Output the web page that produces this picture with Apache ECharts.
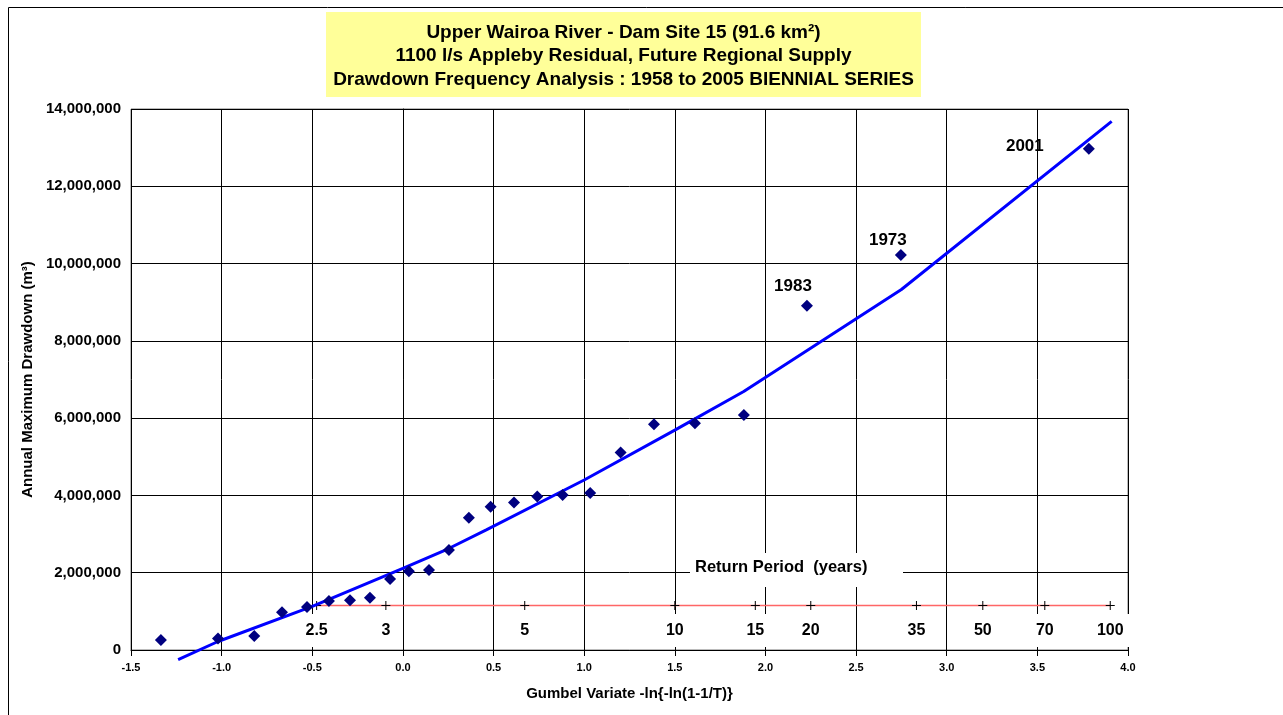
<!DOCTYPE html>
<html><head><meta charset="utf-8">
<script src="https://cdn.jsdelivr.net/npm/echarts@6/dist/echarts.min.js"></script>
<style>html,body{margin:0;padding:0;background:#fff}#c{width:1283px;height:715px}</style>
</head><body><div id="c"></div>
<script>
// ---- data ----
const titleLines = [
  'Upper Wairoa River - Dam Site 15 (91.6 km\u00B2)',
  '1100 l/s Appleby Residual, Future Regional Supply',
  'Drawdown Frequency Analysis : 1958 to 2005 BIENNIAL SERIES'
];
// observed annual maximum drawdowns (plotting positions)
const gumbelX = [-1.335,-1.02,-0.82,-0.667,-0.529,-0.408,-0.292,-0.182,-0.071,0.033,0.144,0.254,0.364,0.484,0.613,0.741,0.881,1.033,1.201,1.385,1.611,1.881,2.229,2.747,3.784];
const drawdown = [260000,300000,360000,980000,1110000,1270000,1290000,1350000,1840000,2040000,2070000,2590000,3420000,3710000,3820000,3970000,4010000,4060000,5110000,5840000,5870000,6080000,8910000,10220000,12970000];
// labelled years
const yearIdx = [22, 23, 24];
const yearText = ['1983', '1973', '2001'];
// fitted frequency curve
const fitX = [-1.24,-1.02,-0.5,0.0,0.25,0.46,1.0,1.5,1.88,2.75,3.91];
const fitY = [-250000,220000,1130000,2110000,2620000,3110000,4400000,5690000,6690000,9330000,13680000];
// return period scale (years) and its gumbel positions
const rpLabels = ['2.5','3','5','10','15','20','35','50','70','100'];
const rpX = [-0.476,-0.094,0.672,1.500,1.944,2.250,2.833,3.199,3.541,3.902];
const rpLevel = 1150000;
// axis ticks
const xTicks = {min:-1.5, max:4.0, step:0.5};
const yTicks = {min:0, max:14000000, step:2000000};

const F = "'Liberation Sans', Arial, Helvetica, sans-serif";
const chart = echarts.init(document.getElementById('c'), null, {renderer:'canvas'});

const yearOffsets = {'1983':[-14,-19], '1973':[-13,-15], '2001':[-64,-2]};

const scatterData = gumbelX.map((x,i)=>{
  const k = yearIdx.indexOf(i);
  const item = {value:[x, drawdown[i]]};
  if (k >= 0) {
    const t = yearText[k];
    item.label = {show:true, formatter:t, position:'inside', offset:yearOffsets[t],
      fontFamily:F, fontWeight:'bold', fontSize:17, color:'#000'};
  }
  return item;
});

const option = {
  animation:false,
  grid:{left:131, top:109, right:155, bottom:65, show:true, borderColor:'#777', borderWidth:1},
  xAxis:{
    type:'value', min:xTicks.min, max:xTicks.max, interval:xTicks.step,
    name:'Gumbel Variate -ln{-ln(1-1/T)}', nameLocation:'middle', nameGap:36,
    nameTextStyle:{fontFamily:F, fontWeight:'bold', fontSize:15, color:'#000'},
    axisLine:{onZero:false, lineStyle:{color:'#000', width:1}},
    axisTick:{show:true, length:6, lineStyle:{color:'#000'}},
    axisLabel:{formatter:v=>v.toFixed(1), fontFamily:F, fontWeight:'bold', fontSize:11, color:'#000', margin:12},
    splitLine:{show:true, lineStyle:{color:'#000', width:1}}
  },
  yAxis:{
    type:'value', min:yTicks.min, max:yTicks.max, interval:yTicks.step,
    name:'Annual Maximum Drawdown (m\u00B3)', nameLocation:'middle', nameGap:96, nameRotate:90,
    nameTextStyle:{fontFamily:F, fontWeight:'bold', fontSize:15, color:'#000'},
    axisLine:{show:true, lineStyle:{color:'#000', width:1}},
    axisTick:{show:true, length:7, lineStyle:{color:'#000'}},
    axisLabel:{formatter:v=>v.toLocaleString('en-US'), fontFamily:F, fontWeight:'bold', fontSize:15, color:'#000', margin:10},
    splitLine:{show:true, lineStyle:{color:'#000', width:1}}
  },
  series:[
    {
      type:'line', z:1,
      data:rpX.map(x=>[x, rpLevel]),
      symbol:'path://M4,0H5V9H4ZM0,4H9V5H0Z', symbolSize:9,
      itemStyle:{color:'#000'},
      lineStyle:{color:'#ff6666', width:1.5},
      label:{show:true, formatter:p=>rpLabels[p.dataIndex], position:'inside', offset:[0,25],
        fontFamily:F, fontWeight:'bold', fontSize:16, lineHeight:17, color:'#000',
        backgroundColor:'#fff', padding:[8,10,8,10]},
      silent:true
    },
    {
      type:'line', z:3,
      data:fitX.map((x,i)=>[x, fitY[i]]),
      symbol:'none', showSymbol:false, clip:false,
      lineStyle:{color:'#0000ff', width:3},
      silent:true
    },
    {
      type:'scatter', z:4,
      data:scatterData,
      symbol:'diamond', symbolSize:12,
      itemStyle:{color:'#000080', opacity:1},
      silent:true
    }
  ],
  graphic:[
    {type:'rect', silent:true, z:0, shape:{x:8.5, y:7.5, width:1300, height:730}, style:{fill:'none', stroke:'#000', lineWidth:1}},
    {type:'rect', silent:true, z:1, shape:{x:326, y:12, width:595, height:85}, style:{fill:'#ffff99'}},
    {type:'text', silent:true, z:2, style:{text:titleLines[0], x:623.5, y:32.5, textAlign:'center', textVerticalAlign:'middle', font:"bold 19px "+F, fill:'#000'}},
    {type:'text', silent:true, z:2, style:{text:titleLines[1], x:623.5, y:56, textAlign:'center', textVerticalAlign:'middle', font:"bold 19px "+F, fill:'#000'}},
    {type:'text', silent:true, z:2, style:{text:titleLines[2], x:623.5, y:79.5, textAlign:'center', textVerticalAlign:'middle', font:"bold 19px "+F, fill:'#000'}},
    {type:'rect', silent:true, z:1, shape:{x:690, y:553, width:213, height:34}, style:{fill:'#fff'}},
    {type:'text', silent:true, z:2, style:{text:'Return Period  (years)', x:695, y:567, textAlign:'left', textVerticalAlign:'middle', font:"bold 16.5px "+F, fill:'#000'}}
  ]
};
chart.setOption(option);
</script>
</body></html>
